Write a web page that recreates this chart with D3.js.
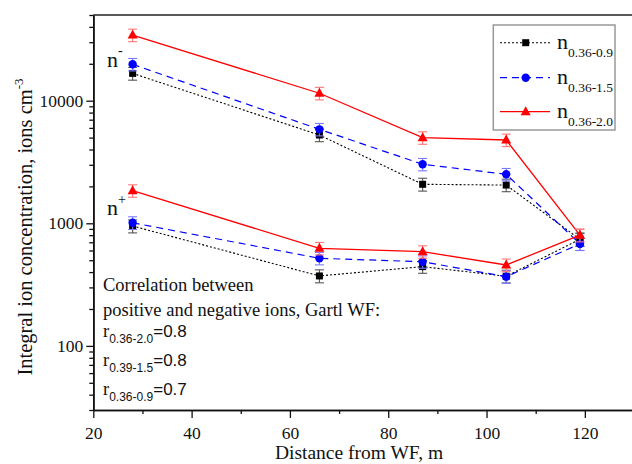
<!DOCTYPE html>
<html>
<head>
<meta charset="utf-8">
<script src="https://cdn.jsdelivr.net/npm/d3@7"></script>
<style>
  body { margin: 0; background: #fff; }
  svg { display: block; font-family: "Liberation Serif", "Times New Roman", serif; }
</style>
</head>
<body>
<div id="chart"></div>
<script>
// distances from the waterfall, m
const distance = [28, 66, 87, 104, 119];

// negative ions (n-)
const negSmall = [16700, 5250, 2080, 2050, 740];
const negMid = [19800, 5840, 3030, 2510, 680];
const negLarge = [34300, 11500, 4990, 4780, 800];
// positive ions (n+)
const posSmall = [950, 372, 443, 370, 740];
const posMid = [1010, 518, 486, 367, 680];
const posLarge = [1845, 625, 587, 457, 800];

// error bars (absolute)
const negSmallErr = [2000, 620, 250, 240, 90];
const negMidErr = [2300, 680, 350, 290, 80];
const negLargeErr = [4000, 1350, 580, 560, 95];
const posSmallErr = [115, 45, 52, 44, 90];
const posMidErr = [120, 60, 56, 43, 80];
const posLargeErr = [215, 73, 68, 54, 95];

const xMajor = [20, 40, 60, 80, 100, 120];
const yMajor = [100, 1000, 10000];
const legendLabels = ["0.36-0.9", "0.36-1.5", "0.36-2.0"];
const corrLabels = [["0.36-2.0", "0.8"], ["0.39-1.5", "0.8"], ["0.36-0.9", "0.7"]];

const margin = { top: 15, right: -2, bottom: 54, left: 93.3 };
const width = 632 - margin.left - margin.right;
const height = 464 - margin.top - margin.bottom;

const svg = d3.select("#chart").append("svg")
  .attr("width", 632)
  .attr("height", 464)
  .attr("font-family", "'Liberation Serif', serif");

const g = svg.append("g")
  .attr("transform", `translate(${margin.left},${margin.top})`);

const x = d3.scaleLinear().domain([20, 130]).range([0, width]);
const y = d3.scaleLog().domain([30, 50000]).range([height, 0]);

// frame
g.append("line").attr("x1", 0).attr("x2", width).attr("y1", 0).attr("y2", 0)
  .attr("stroke", "#222").attr("stroke-width", 1.6);
g.append("line").attr("x1", width).attr("x2", width).attr("y1", 0).attr("y2", height)
  .attr("stroke", "#222").attr("stroke-width", 1.6);

// axes
const xMinor = x.ticks(11).filter(d => !xMajor.includes(d));
const yMinor = y.ticks().filter(d => !yMajor.includes(d));

function styleAxis(sel) {
  sel.attr("font-family", "'Liberation Serif', serif");
  sel.select(".domain").attr("stroke", "#111").attr("stroke-width", 1.6);
  sel.selectAll(".tick line").attr("stroke", "#111").attr("stroke-width", 1.3);
  sel.selectAll("text").attr("font-size", 17.5).attr("fill", "#111");
}

g.append("g")
  .attr("transform", `translate(0,${height})`)
  .call(d3.axisBottom(x).tickValues(xMinor).tickSize(4).tickSizeOuter(0).tickFormat(""))
  .call(styleAxis);
g.append("g")
  .attr("transform", `translate(0,${height})`)
  .call(d3.axisBottom(x).tickValues(xMajor).tickSize(8).tickPadding(9).tickSizeOuter(0).tickFormat(d3.format("d")))
  .call(styleAxis);

g.append("g")
  .call(d3.axisLeft(y).tickValues(yMinor).tickSize(4).tickSizeOuter(0).tickFormat(""))
  .call(styleAxis);
g.append("g")
  .call(d3.axisLeft(y).tickValues(yMajor).tickSize(7).tickPadding(3).tickSizeOuter(0).tickFormat(d3.format("d")))
  .call(styleAxis);

// axis titles
svg.append("text")
  .attr("x", 359)
  .attr("y", 459)
  .attr("text-anchor", "middle")
  .attr("font-size", 19.5)
  .attr("fill", "#111")
  .text("Distance from WF, m");

const yTitle = svg.append("text")
  .attr("transform", "translate(32,227) rotate(-90)")
  .attr("text-anchor", "middle")
  .attr("font-size", 20.5)
  .attr("fill", "#111");
yTitle.append("tspan").text("Integral ion concentration, ions cm");
yTitle.append("tspan").attr("dy", -9).attr("font-size", 13).text("-3");

// series
const styles = [
  { color: "#000", err: "#555", dash: "2,2", width: 1.1, marker: "square" },
  { color: "#0000ff", err: "#7a7aff", dash: "7,5", width: 1.2, marker: "circle" },
  { color: "#ff0000", err: "#ff7777", dash: null, width: 1.3, marker: "triangle" }
];

const series = [
  { values: negSmall, err: negSmallErr, style: styles[0] },
  { values: negMid, err: negMidErr, style: styles[1] },
  { values: negLarge, err: negLargeErr, style: styles[2] },
  { values: posSmall, err: posSmallErr, style: styles[0] },
  { values: posMid, err: posMidErr, style: styles[1] },
  { values: posLarge, err: posLargeErr, style: styles[2] }
];

const line = d3.line()
  .x(d => x(d.x))
  .y(d => y(d.v));

function drawMarker(sel, type, color) {
  if (type === "square") {
    sel.append("rect").attr("x", -3.5).attr("y", -3.5).attr("width", 7).attr("height", 7).attr("fill", color);
  } else if (type === "circle") {
    sel.append("circle").attr("r", 4.2).attr("fill", color);
  } else {
    sel.append("path").attr("d", "M0,-5.5L5,3.5L-5,3.5Z").attr("fill", color);
  }
}

series.forEach(s => {
  const pts = s.values.map((v, i) => ({ x: distance[i], v: v, e: s.err[i] }));

  g.append("path")
    .datum(pts)
    .attr("fill", "none")
    .attr("stroke", s.style.color)
    .attr("stroke-width", s.style.width)
    .attr("stroke-dasharray", s.style.dash)
    .attr("d", line);

  const eb = g.append("g").selectAll("g").data(pts).enter().append("g")
    .attr("stroke", s.style.err)
    .attr("stroke-width", 1.1);
  eb.append("line")
    .attr("x1", d => x(d.x)).attr("x2", d => x(d.x))
    .attr("y1", d => y(d.v - d.e)).attr("y2", d => y(d.v + d.e));
  eb.append("line")
    .attr("x1", d => x(d.x) - 4.5).attr("x2", d => x(d.x) + 4.5)
    .attr("y1", d => y(d.v - d.e)).attr("y2", d => y(d.v - d.e));
  eb.append("line")
    .attr("x1", d => x(d.x) - 4.5).attr("x2", d => x(d.x) + 4.5)
    .attr("y1", d => y(d.v + d.e)).attr("y2", d => y(d.v + d.e));

  g.append("g").selectAll("g").data(pts).enter().append("g")
    .attr("transform", d => `translate(${x(d.x)},${y(d.v)})`)
    .each(function () { drawMarker(d3.select(this), s.style.marker, s.style.color); });
});

// n- / n+ labels
const nMinus = svg.append("text").attr("x", 107).attr("y", 66.7).attr("font-size", 22).attr("fill", "#111");
nMinus.append("tspan").text("n");
nMinus.append("tspan").attr("dy", -12).attr("font-size", 14).text("-");
const nPlus = svg.append("text").attr("x", 107).attr("y", 215).attr("font-size", 22).attr("fill", "#111");
nPlus.append("tspan").text("n");
nPlus.append("tspan").attr("dy", -11).attr("font-size", 14).text("+");

// correlation note
svg.append("text").attr("x", 103).attr("y", 290.7).attr("font-size", 18.5).attr("fill", "#111")
  .text("Correlation between");
svg.append("text").attr("x", 103).attr("y", 315.7).attr("font-size", 18.5).attr("fill", "#111")
  .text("positive and negative ions, Gartl WF:");
corrLabels.forEach((c, i) => {
  const t = svg.append("text").attr("x", 103).attr("y", 337 + i * 29).attr("font-size", 18.5).attr("fill", "#111");
  t.append("tspan").text("r");
  t.append("tspan").attr("dy", 6).attr("font-size", 12)
    .attr("font-family", "'Liberation Sans', Arial, sans-serif").text(c[0]);
  t.append("tspan").attr("dy", -6).attr("font-size", 17)
    .attr("font-family", "'Liberation Sans', Arial, sans-serif").text("=" + c[1]);
});

// legend
const legend = svg.append("g");
legend.append("rect")
  .attr("x", 493.3).attr("y", 25).attr("width", 121.7).attr("height", 105)
  .attr("fill", "#fff").attr("stroke", "#999").attr("stroke-width", 1.5);

const legendY = [42.7, 77.7, 111.7];
legendLabels.forEach((lab, i) => {
  const st = styles[i];
  const row = legend.append("g").attr("transform", `translate(0,${legendY[i]})`);
  row.append("line")
    .attr("x1", 500).attr("x2", 550)
    .attr("stroke", st.color).attr("stroke-width", st.width)
    .attr("stroke-dasharray", st.dash);
  drawMarker(row.append("g").attr("transform", "translate(525.7,0)"), st.marker, st.color);
  const t = row.append("text").attr("x", 557).attr("y", 6.6).attr("font-size", 22).attr("fill", "#111");
  t.append("tspan").text("n");
  t.append("tspan").attr("dy", 8).attr("font-size", 13.5).text(lab);
});
</script>
</body>
</html>
